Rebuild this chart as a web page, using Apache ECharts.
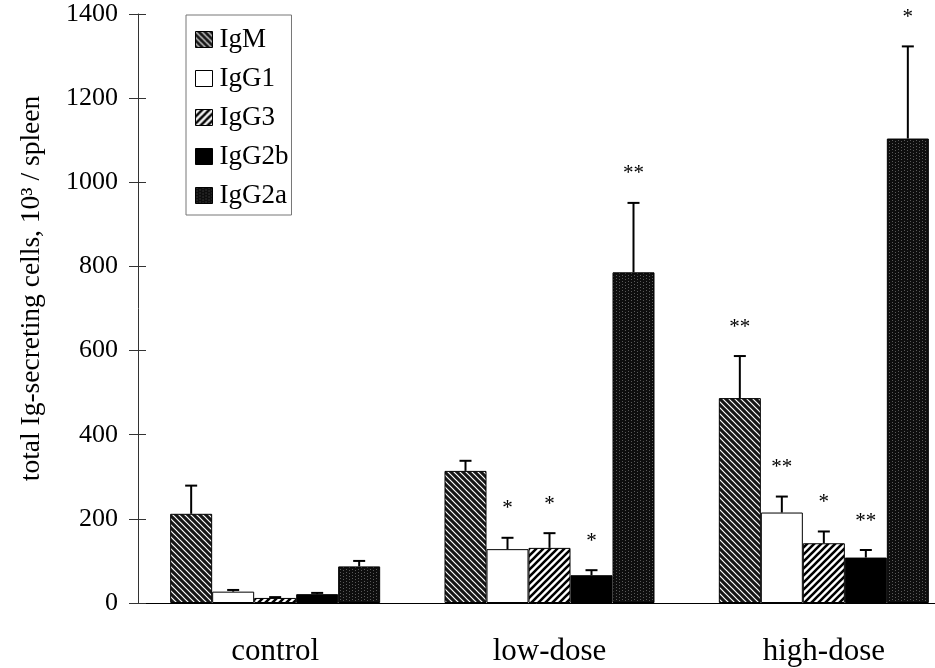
<!DOCTYPE html>
<html>
<head>
<meta charset="utf-8">
<script src="https://cdn.jsdelivr.net/npm/echarts@6/dist/echarts.min.js"></script>
<style>
  html, body { margin: 0; padding: 0; background: #fff; }
  #chart { width: 935px; height: 668px; }
</style>
</head>
<body>
<div id="chart"></div>
<script>
const categories = ['control', 'low-dose', 'high-dose']
const isotypes = ['IgM', 'IgG1', 'IgG3', 'IgG2b', 'IgG2a']

// means and upper error (SEM), 10^3 cells / spleen
const igm = [212, 314, 487]
const igmErr = [67, 24, 100]
const igg1 = [27, 128, 215]
const igg1Err = [4, 27, 38]
const igg3 = [12, 131, 142]
const igg3Err = [2, 35, 28]
const igg2b = [21, 66, 108]
const igg2bErr = [3, 12, 18]
const igg2a = [87, 786, 1104]
const igg2aErr = [13, 165, 219]

// significance marks
const igmStar = ['', '', '**']
const igg1Star = ['', '*', '**']
const igg3Star = ['', '*', '*']
const igg2bStar = ['', '*', '**']
const igg2aStar = ['', '**', '*']

const yTicks = [0, 200, 400, 600, 800, 1000, 1200, 1400]

{
    const FONT = '"Liberation Serif", "Times New Roman", serif'
    const BAR_W = 42

    let tile = (size, draw) => {
        let c = document.createElement('canvas')
        c.width = c.height = size
        draw(c.getContext('2d'), size)
        return c
    }

    // IgM: dark with thin white "\" lines
    let igmFill = tile(6, (ctx, s) => {
        ctx.fillStyle = '#161616'
        ctx.fillRect(0, 0, s, s)
        ctx.strokeStyle = '#ffffff'
        ctx.lineWidth = 1.2
        ctx.beginPath()
        ctx.moveTo(-1, -1); ctx.lineTo(s + 1, s + 1)
        ctx.moveTo(-1, s - 1); ctx.lineTo(1, s + 1)
        ctx.moveTo(s - 1, -1); ctx.lineTo(s + 1, 1)
        ctx.stroke()
    })
    // IgG3: white with thick black "/" stripes
    let igg3Fill = tile(7, (ctx, s) => {
        ctx.fillStyle = '#ffffff'
        ctx.fillRect(0, 0, s, s)
        ctx.strokeStyle = '#000000'
        ctx.lineWidth = 2.6
        ctx.beginPath()
        ctx.moveTo(-1, s + 1); ctx.lineTo(s + 1, -1)
        ctx.moveTo(-1, 1); ctx.lineTo(1, -1)
        ctx.moveTo(s - 1, s + 1); ctx.lineTo(s + 1, s - 1)
        ctx.stroke()
    })
    // IgG2a: near black stipple
    let igg2aFill = tile(6, (ctx, s) => {
        ctx.fillStyle = '#0e0e0e'
        ctx.fillRect(0, 0, s, s)
        ctx.fillStyle = '#5a5a5a'
        ctx.fillRect(1, 0, 1, 1)
        ctx.fillRect(1, 3, 1, 1)
        ctx.fillRect(4, 2, 1, 1)
        ctx.fillRect(4, 5, 1, 1)
    })

    let fills = [
        { image: igmFill, repeat: 'repeat' },
        '#ffffff',
        { image: igg3Fill, repeat: 'repeat' },
        '#000000',
        { image: igg2aFill, repeat: 'repeat' },
    ]
    let means = [igm, igg1, igg3, igg2b, igg2a]
    let errs = [igmErr, igg1Err, igg3Err, igg2bErr, igg2aErr]
    let stars = [igmStar, igg1Star, igg3Star, igg2bStar, igg2aStar]

    let barSeries = isotypes.map((name, i) => ({
        name: name,
        type: 'bar',
        barWidth: BAR_W,
        barGap: '0%',
        itemStyle: { color: fills[i], borderColor: '#000', borderWidth: 1 },
        data: means[i],
        z: 2,
    }))

    let errSeries = isotypes.map((name, i) => ({
        type: 'custom',
        z: 3,
        silent: true,
        data: categories.map((c, j) => [j, means[i][j], errs[i][j]]),
        renderItem(params, api) {
            let j = api.value(0)
            let base = api.coord([j, api.value(1)])
            let top = api.coord([j, api.value(1) + api.value(2)])
            let x = base[0] + (i - 2) * BAR_W
            let mark = stars[i][params.dataIndex]
            let children = [
                { type: 'line', shape: { x1: x, y1: base[1], x2: x, y2: top[1] }, style: { stroke: '#000', lineWidth: 2 } },
                { type: 'line', shape: { x1: x - 6, y1: top[1], x2: x + 6, y2: top[1] }, style: { stroke: '#000', lineWidth: 2 } },
            ]
            if (mark) {
                children.push({
                    type: 'text',
                    style: {
                        text: mark, x: x, y: top[1] - 29,
                        align: 'center', verticalAlign: 'middle',
                        textAlign: 'center', textVerticalAlign: 'middle',
                        font: '21px ' + FONT, fill: '#000',
                    },
                })
            }
            return { type: 'group', children: children }
        },
    }))

    let chart = echarts.init(document.getElementById('chart'))
    chart.setOption({
        animation: false,
        backgroundColor: '#fff',
        textStyle: { fontFamily: FONT },
        grid: { left: 138, right: -26, top: 14, bottom: 65, outerBoundsMode: 'none', containLabel: false },
        legend: {
            data: isotypes,
            orient: 'vertical',
            left: 186,
            top: 15,
            icon: 'rect',
            itemWidth: 17,
            itemHeight: 16,
            itemGap: 12,
            padding: [11, 3, 6, 9],
            borderColor: '#777',
            borderWidth: 1,
            backgroundColor: '#fff',
            itemStyle: { borderColor: '#000', borderWidth: 1 },
            textStyle: { fontFamily: FONT, fontSize: 27, color: '#000', padding: [0, 0, 0, 2] },
        },
        xAxis: {
            type: 'category',
            data: categories,
            axisLine: { lineStyle: { color: '#000', width: 1 } },
            axisTick: { show: false },
            axisLabel: { fontFamily: FONT, fontSize: 31, color: '#000', margin: 33 },
        },
        yAxis: [{
            type: 'value',
            min: yTicks[0],
            max: yTicks[yTicks.length - 1],
            interval: yTicks[1] - yTicks[0],
            name: 'total Ig-secreting cells, 10³ / spleen',
            nameLocation: 'middle',
            nameGap: 92,
            nameTextStyle: { fontFamily: FONT, fontSize: 27.5, color: '#000', padding: [0, 0, 0, 40] },
            axisLine: { show: true, lineStyle: { color: '#333', width: 1 } },
            axisTick: { show: true, length: 9, lineStyle: { color: '#333' } },
            axisLabel: { fontFamily: FONT, fontSize: 26, color: '#000', margin: 20, formatter: (v) => String(v) },
            splitLine: { show: false },
        }, {
            type: 'value',
            position: 'left',
            min: yTicks[0],
            max: yTicks[yTicks.length - 1],
            interval: yTicks[1] - yTicks[0],
            axisLine: { show: false },
            axisTick: { show: true, inside: true, length: 8, lineStyle: { color: '#333' } },
            axisLabel: { show: false },
            splitLine: { show: false },
        }],
        series: barSeries.concat(errSeries),
    })
}
</script>
</body>
</html>
